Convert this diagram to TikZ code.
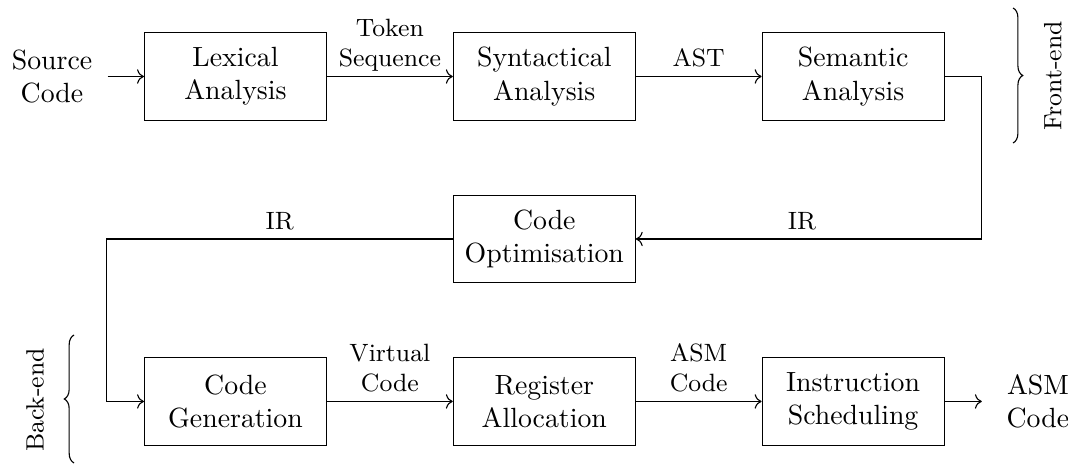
\documentclass[tikz,border=0pt]{standalone}
\usepackage{tikz}
\usetikzlibrary{arrows.meta, positioning, decorations.pathreplacing}

\begin{document}
\begin{tikzpicture}[
        stage/.style={draw, minimum width=2.3cm, minimum height=1.11cm, align=center},
        io/.style={align=center},
        lbl/.style={above, font=\small, align=center, text depth=0pt},
        brc/.style={decorate, decoration={brace, amplitude=3.5pt}},
        side/.style={rotate=90, font=\small}
    ]
        % Fix the page size
        \useasboundingbox (0,0) rectangle (13.502,-5.866);

        % Front-end stages (top row)
        \node[stage] (lex) at (2.977,-0.967) {Lexical\\Analysis};
        \node[stage, right=1.59cm of lex] (syn) {Syntactical\\Analysis};
        \node[stage, right=1.59cm of syn] (sem) {Semantic\\Analysis};

        % Middle stage
        \node[stage, below=0.93cm of syn] (opt) {Code\\Optimisation};

        % Back-end stages (bottom row)
        \node[stage, below=0.93cm of opt] (reg) {Register\\Allocation};
        \node[stage, left=1.59cm of reg] (gen) {Code\\Generation};
        \node[stage, right=1.59cm of reg] (sched) {Instruction\\Scheduling};

        % Input and output
        \node[io, left=0.53cm of lex] (src) {Source\\Code};
        \node[io, right=0.66cm of sched] (out) {ASM\\Code};

        % Turning points of the IR lines
        \coordinate[right=0.47cm of sem.east] (turnR);
        \coordinate[left=0.47cm of gen.west] (turnL);

        % Top row arrows
        \draw[->, shorten <=0.7mm] (src) -- (lex);
        \draw[->] (lex) -- node[lbl] {Token\\Sequence} (syn);
        \draw[->] (syn) -- node[lbl] {AST} (sem);

        % IR down to optimisation, then on to code generation
        \draw[->] (sem.east) -- (turnR) |- node[lbl, pos=0.76] {IR} (opt.east);
        \draw[->] (opt.west) -| node[lbl, pos=0.25] {IR} (turnL) -- (gen.west);

        % Bottom row arrows
        \draw[->] (gen) -- node[lbl] {Virtual\\Code} (reg);
        \draw[->] (reg) -- node[lbl] {ASM\\Code} (sched);
        \draw[->, shorten >=1.9mm] (sched) -- (out);

        % Braces
        \draw[brc] (12.807,-0.101) -- (12.807,-1.808);
        \node[side] (fe) at (13.31,-0.96) {Front-end};
        \draw[brc] (0.936,-5.853) -- (0.936,-4.235);
        \node[side] (be) at (0.442,-5.057) {Back-end};
    \end{tikzpicture}
\end{document}
